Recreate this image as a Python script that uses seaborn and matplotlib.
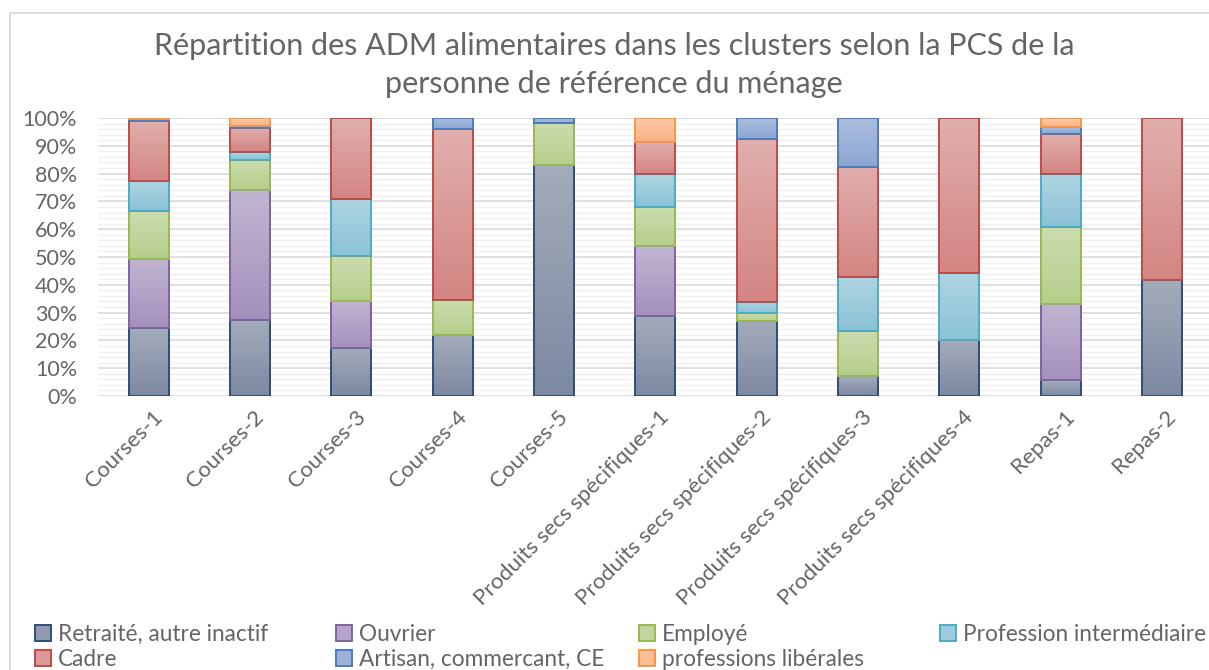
import numpy as np
import pandas as pd
import matplotlib
matplotlib.use("Agg")
import matplotlib.pyplot as plt
from matplotlib.colors import LinearSegmentedColormap, to_rgb
from matplotlib.patches import Patch, Rectangle
from matplotlib.ticker import FuncFormatter, MultipleLocator
from matplotlib.transforms import ScaledTranslation
import seaborn as sns

# Clusters (x-axis categories)
clusters = [
    "Courses-1", "Courses-2", "Courses-3", "Courses-4", "Courses-5",
    "Produits secs spécifiques-1", "Produits secs spécifiques-2",
    "Produits secs spécifiques-3", "Produits secs spécifiques-4",
    "Repas-1", "Repas-2",
]

# Share (%) of each PCS group within every cluster
retraite = [24.4, 27.4, 17.4, 21.9, 83.0, 28.9, 27.1, 7.1, 20.3, 5.7, 41.9]
ouvrier = [24.9, 46.6, 16.9, 0.0, 0.0, 25.0, 0.0, 0.0, 0.0, 27.4, 0.0]
employe = [17.1, 10.8, 15.9, 12.8, 15.3, 14.0, 2.8, 16.4, 0.0, 27.7, 0.0]
prof_interm = [11.0, 2.8, 20.8, 0.0, 0.0, 12.1, 4.0, 19.2, 23.9, 19.0, 0.0]
cadre = [21.5, 8.7, 29.0, 61.2, 0.0, 11.2, 58.4, 39.7, 55.8, 14.3, 58.1]
artisan = [0.6, 0.9, 0.0, 4.1, 1.7, 0.0, 7.7, 17.6, 0.0, 2.8, 0.0]
liberales = [0.5, 2.8, 0.0, 0.0, 0.0, 8.8, 0.0, 0.0, 0.0, 3.1, 0.0]

group_names = [
    "Retraité, autre inactif", "Ouvrier", "Employé", "Profession intermédiaire",
    "Cadre", "Artisan, commercant, CE", "professions libérales",
]
group_values = [retraite, ouvrier, employe, prof_interm, cadre, artisan, liberales]

# (top of gradient, bottom of gradient, outline)
group_styles = [
    ("#a4acbb", "#7d89a2", "#2f4d77"),
    ("#c0b6d1", "#a490bc", "#7f63a1"),
    ("#cddcb0", "#b5ce8b", "#98b954"),
    ("#afd4e2", "#8bc2d6", "#4bacc6"),
    ("#e1afad", "#d38583", "#be4b48"),
    ("#aebedd", "#8ca6d4", "#4a7ebb"),
    ("#fdcaa7", "#f9b287", "#f79646"),
]

df = pd.DataFrame({"cluster": clusters})
for name, vals in zip(group_names, group_values):
    df[name] = vals

TEXT = "#656565"
W, H = 1209, 670

sns.set_theme(style="white")
plt.rcParams["font.family"] = ["Lato", "DejaVu Sans"]

fig = plt.figure(figsize=(W / 100, H / 100), dpi=100)
ax = fig.add_axes([98 / W, 1 - 396 / H, (1212.5 - 98) / W, (396 - 118) / H])

bottom = np.zeros(len(clusters))
for name, (top_c, bot_c, edge_c) in zip(group_names, group_styles):
    vals = df[name].to_numpy()
    sns.barplot(
        x=df["cluster"], y=vals, order=clusters, bottom=bottom,
        width=0.395, errorbar=None, color=bot_c, ax=ax,
    )
    cmap = LinearSegmentedColormap.from_list(name, [bot_c, top_c])
    for bar in ax.containers[-1]:
        if bar.get_height() <= 0:
            bar.set_visible(False)
            continue
        bar.set_facecolor("none")
        bar.set_edgecolor(edge_c)
        bar.set_linewidth(1.4)
        bar.set_zorder(3)
        x0, y0 = bar.get_x(), bar.get_y()
        w, h = bar.get_width(), bar.get_height()
        ax.set_autoscale_on(False)
        im = ax.imshow(
            np.linspace(0, 1, 128).reshape(-1, 1), extent=[x0, x0 + w, y0, y0 + h],
            origin="lower", cmap=cmap, aspect="auto", zorder=2.5, interpolation="bilinear",
        )
        im.set_clip_path(bar)
    bottom = bottom + vals

ax.set_xlim(-0.5, 10.5)
ax.set_ylim(0, 100)
ax.set_xlabel("")
ax.set_ylabel("")

# Horizontal gridlines: major every 10 %, faint minor every 2 %
ax.yaxis.set_major_locator(MultipleLocator(10))
ax.yaxis.set_minor_locator(MultipleLocator(2))
ax.yaxis.set_major_formatter(FuncFormatter(lambda v, _: f"{v:.0f}%"))
ax.set_axisbelow(True)
ax.grid(axis="y", which="major", color="#d9d9d9", linewidth=1.2, zorder=0)
ax.grid(axis="y", which="minor", color="#f0f0f0", linewidth=1.0, zorder=0)
ax.grid(axis="x", visible=False)
for s in ax.spines.values():
    s.set_visible(False)

ax.tick_params(axis="y", which="both", length=0, pad=15, labelsize=15.5, labelcolor=TEXT)
ax.tick_params(axis="x", length=0, pad=15, labelsize=16, labelcolor=TEXT)
shift = ScaledTranslation(11 / 100, 3 / 100, fig.dpi_scale_trans)
for lab in ax.get_xticklabels():
    lab.set_rotation(45)
    lab.set_ha("right")
    lab.set_va("center")
    lab.set_rotation_mode("anchor")
    lab.set_transform(lab.get_transform() + shift)

fig.text(0.508, 1 - 65 / H,
         "Répartition des ADM alimentaires dans les clusters selon la PCS de la\n"
         "personne de référence du ménage",
         ha="center", va="center", ma="center", fontsize=22, color=TEXT,
         linespacing=1.42)

# Legend: two rows, four fixed-position columns
handles = [
    Patch(facecolor=np.mean([to_rgb(t), to_rgb(b)], axis=0), edgecolor=e, linewidth=1.4)
    for t, b, e in group_styles
]
col_x = [35, 336, 639, 940]
for c, x in enumerate(col_x):
    idx = [i for i in (c, c + 4) if i < len(group_names)]
    fig.legend(
        [handles[i] for i in idx], [group_names[i] for i in idx],
        loc="upper left", bbox_to_anchor=(x / W, 1 - 624 / H),
        frameon=False, fontsize=16.3, labelcolor=TEXT,
        handlelength=0.7, handleheight=0.7, handletextpad=0.3,
        labelspacing=0.18, borderpad=0, borderaxespad=0,
    )

# Light chart-area frame
fig.patches.append(Rectangle((10 / W, -0.1), 1.2, (H - 12.7) / H + 0.1,
                             transform=fig.transFigure, fill=False,
                             edgecolor="#d9d9d9", linewidth=1.3))

fig.savefig("out.png", dpi=100)
